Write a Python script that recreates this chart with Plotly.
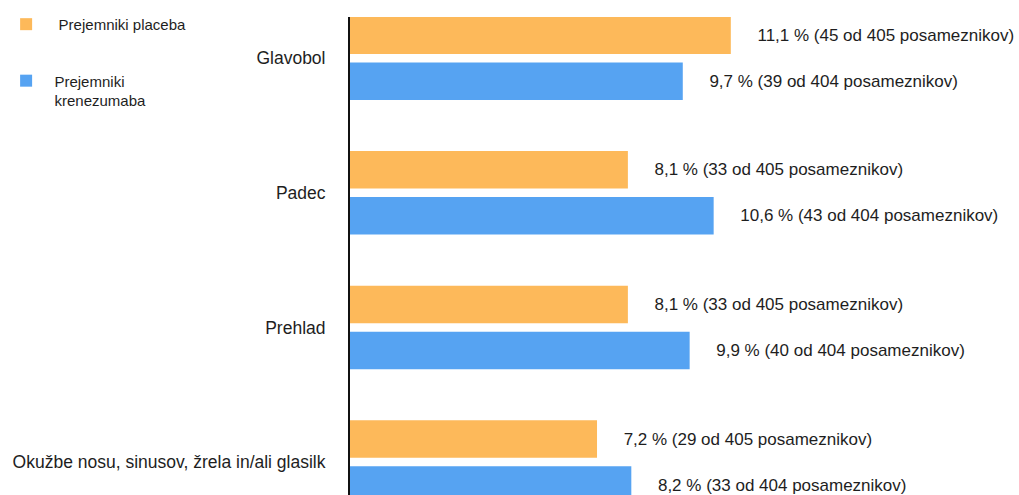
import plotly.graph_objects as go

categories = ["Glavobol", "Padec", "Prehlad", "Okužbe nosu, sinusov, žrela in/ali glasilk"]
placebo_pct = [11.1, 8.1, 8.1, 7.2]
placebo_n = [45, 33, 33, 29]
placebo_total = 405
kren_pct = [9.7, 10.6, 9.9, 8.2]
kren_n = [39, 43, 40, 33]
kren_total = 404
series_names = ["\u00a0\u00a0\u00a0Prejemniki placeba", "\u00a0\u00a0Prejemniki<br>\u00a0\u00a0krenezumaba"]

def fmt(p, n, tot):
    pad = "\u00a0" * 5
    return f"{pad}{str(p).replace('.', ',')} % ({n} od {tot} posameznikov)"

FONT = "Liberation Sans, Arial, sans-serif"
TXT = "#1e1e1e"

fig = go.Figure()
fig.add_trace(go.Bar(
    y=categories, x=placebo_pct, orientation="h", name=series_names[0],
    marker=dict(color="#FDB95A", line=dict(width=0)),
    text=[fmt(p, n, placebo_total) for p, n in zip(placebo_pct, placebo_n)],
    textposition="outside", cliponaxis=False,
    textfont=dict(family=FONT, size=17, color=TXT),
    legendgroup="a", hoverinfo="skip",
))
fig.add_trace(go.Bar(
    y=categories, x=kren_pct, orientation="h", name=series_names[1],
    marker=dict(color="#56A3F2", line=dict(width=0)),
    text=[fmt(p, n, kren_total) for p, n in zip(kren_pct, kren_n)],
    textposition="outside", cliponaxis=False,
    textfont=dict(family=FONT, size=17, color=TXT),
    legendgroup="b", hoverinfo="skip",
))

fig.update_layout(
    width=1019, height=495,
    margin=dict(l=350, r=0, t=17, b=0, autoexpand=False),
    paper_bgcolor="white", plot_bgcolor="white",
    barmode="group", bargap=0.316, bargroupgap=0.185,
    font=dict(family=FONT, color=TXT, size=17),
    showlegend=True,
    legend=dict(
        xref="container", yref="container", x=0.006, y=0.984,
        xanchor="left", yanchor="top",
        font=dict(family=FONT, size=15, color=TXT), tracegroupgap=34,
        valign="top", traceorder="grouped", bgcolor="rgba(0,0,0,0)",
    ),
    xaxis=dict(range=[0, 19.5], showgrid=False, zeroline=False,
               showticklabels=False, showline=False, fixedrange=True,
               automargin=False),
    yaxis=dict(type="category", range=[3.245, -0.306], showgrid=False,
               zeroline=False, showline=True, linecolor="#111", linewidth=2,
               ticks="", ticklabelstandoff=19, automargin=False,
               tickfont=dict(size=17.5, color=TXT), fixedrange=True),
)

fig.write_html("out.html")
